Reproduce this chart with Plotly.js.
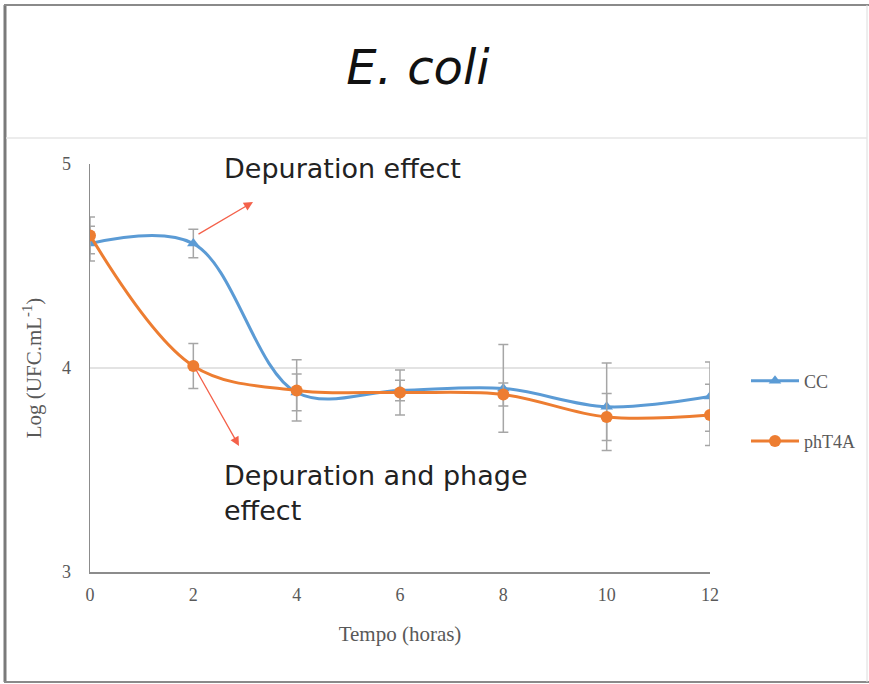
<!DOCTYPE html>
<html>
<head>
<meta charset="utf-8">
<script src="https://cdn.plot.ly/plotly-3.0.1.min.js"></script>
<style>
html,body{margin:0;padding:0;background:#fff;}
#chart{width:869px;height:684px;}
</style>
</head>
<body>
<div id="chart"></div>
<script>
// Data
const hours = [0, 2, 4, 6, 8, 10, 12];
const ccValues = [4.61, 4.61, 3.88, 3.89, 3.90, 3.81, 3.86];
const ccErrors = [0.085, 0.07, 0.09, 0.05, 0.215, 0.215, 0.17];
const phValues = [4.65, 4.01, 3.89, 3.88, 3.87, 3.76, 3.77];
const phErrors = [0.09, 0.11, 0.15, 0.11, 0.056, 0.115, 0.15];
const seriesNames = ['CC', 'phT4A'];
const xTicks = [0, 2, 4, 6, 8, 10, 12];
const yTicks = [3, 4, 5];

// pixel -> paper helpers (plot area: x 90..710, y 164..572)
const L = 90, R = 710, T = 164, B = 572;
const px = v => (v - L) / (R - L);
const py = v => (B - v) / (B - T);

const errStyle = {type: 'data', visible: true, color: '#a6a6a6', thickness: 1.5, width: 5};

const traces = [
  {
    x: hours, y: ccValues, name: seriesNames[0], type: 'scatter', mode: 'lines+markers',
    line: {color: '#5B9BD5', width: 3, shape: 'spline', smoothing: 1},
    marker: {symbol: 'triangle-up', size: 11, color: '#5B9BD5'},
    error_y: Object.assign({array: ccErrors}, errStyle),
    legendgroup: 'a'
  },
  {
    x: hours, y: phValues, name: seriesNames[1], type: 'scatter', mode: 'lines+markers',
    line: {color: '#ED7D31', width: 3, shape: 'spline', smoothing: 1},
    marker: {symbol: 'circle', size: 12, color: '#ED7D31'},
    error_y: Object.assign({array: phErrors}, errStyle),
    legendgroup: 'b'
  }
];

const serif = '"Liberation Serif", "Times New Roman", serif';
const comic = '"DejaVu Sans", sans-serif';

const layout = {
  width: 869, height: 684,
  margin: {l: L, r: 869 - R, t: T, b: 684 - B, pad: 0, autoexpand: false},
  paper_bgcolor: '#ffffff', plot_bgcolor: '#ffffff',
  showlegend: true,
  title: {
    text: '<i>E. coli</i>', x: 418 / 869, xanchor: 'center', xref: 'container',
    y: 1 - 67 / 684, yanchor: 'middle', yref: 'container',
    font: {family: comic, size: 48, color: '#111111'}
  },
  xaxis: {
    range: [0, 12], tickvals: xTicks, ticktext: xTicks.map(String),
    showgrid: false, zeroline: false, showline: true, linecolor: '#8c8c8c', linewidth: 1.5,
    ticks: '', ticklabelstandoff: 6, tickfont: {family: serif, size: 18, color: '#595959'},
    title: {text: 'Tempo (horas)', font: {family: serif, size: 21, color: '#595959'}, standoff: 22},
    fixedrange: true, automargin: false
  },
  yaxis: {
    range: [3, 5], tickvals: yTicks, ticktext: yTicks.map(String),
    showgrid: true, gridcolor: '#e3e3e3', gridwidth: 1.5, zeroline: false,
    showline: true, linecolor: '#8c8c8c', linewidth: 1.5,
    ticks: '', ticklabelstandoff: 14, tickfont: {family: serif, size: 18, color: '#595959'},
    title: {text: 'Log (UFC.mL<sup>-1</sup>)', font: {family: serif, size: 21, color: '#595959'}, standoff: 14},
    fixedrange: true, automargin: false
  },
  legend: {
    x: px(746), xanchor: 'left', y: py(411), yanchor: 'middle',
    font: {family: serif, size: 18, color: '#595959'},
    tracegroupgap: 34, traceorder: 'grouped', bgcolor: 'rgba(0,0,0,0)', itemwidth: 48
  },
  annotations: [
    {xref: 'paper', yref: 'paper', x: px(222), y: py(168), xanchor: 'left', yanchor: 'middle',
     text: 'Depuration effect', showarrow: false, align: 'left',
     font: {family: comic, size: 27, color: '#222222'}},
    {xref: 'paper', yref: 'paper', x: px(222), y: py(493), xanchor: 'left', yanchor: 'middle',
     text: 'Depuration and phage<br>effect', showarrow: false, align: 'left',
     font: {family: comic, size: 27, color: '#222222'}},
    {xref: 'x', yref: 'y', axref: 'x', ayref: 'y',
     x: (253 - L) / 620 * 12, y: 5 - (202 - T) / 204,
     ax: (197 - L) / 620 * 12, ay: 5 - (235 - T) / 204,
     text: '', showarrow: true, arrowhead: 2, arrowsize: 1.4, arrowwidth: 1.3, arrowcolor: '#F4614A'},
    {xref: 'x', yref: 'y', axref: 'x', ayref: 'y',
     x: (239 - L) / 620 * 12, y: 5 - (446 - T) / 204,
     ax: (195 - L) / 620 * 12, ay: 5 - (368 - T) / 204,
     text: '', showarrow: true, arrowhead: 2, arrowsize: 1.4, arrowwidth: 1.3, arrowcolor: '#F4614A'}
  ],
  shapes: [
    // frame
    {type: 'line', xref: 'paper', yref: 'paper', x0: px(5), x1: px(5), y0: py(5), y1: py(682), line: {color: '#7a7a7a', width: 3}},
    {type: 'line', xref: 'paper', yref: 'paper', x0: px(4), x1: px(869), y0: py(5), y1: py(5), line: {color: '#8a8a8a', width: 2}},
    {type: 'line', xref: 'paper', yref: 'paper', x0: px(4), x1: px(869), y0: py(682), y1: py(682), line: {color: '#8a8a8a', width: 2}},
    {type: 'line', xref: 'paper', yref: 'paper', x0: px(867), x1: px(867), y0: py(5), y1: py(682), line: {color: '#dcdcdc', width: 1}},
    // separator under title
    {type: 'line', xref: 'paper', yref: 'paper', x0: px(6), x1: px(867), y0: py(138), y1: py(138), line: {color: '#e6e6e6', width: 1.5}}
  ]
};

Plotly.newPlot('chart', traces, layout, {displayModeBar: false, staticPlot: true});
</script>
</body>
</html>
